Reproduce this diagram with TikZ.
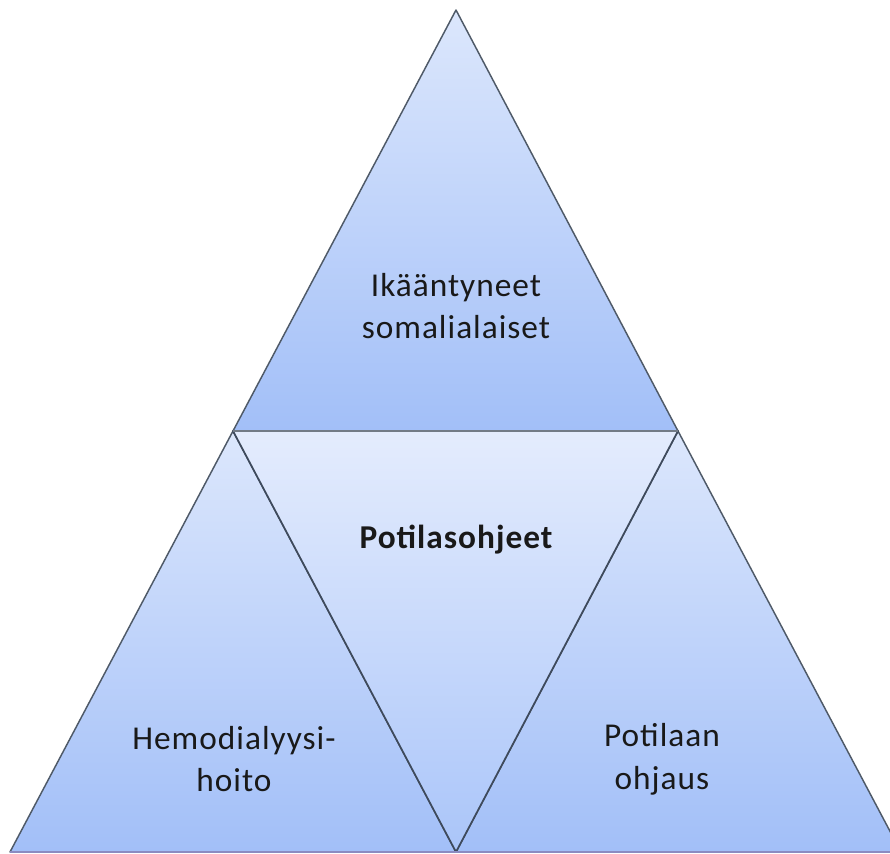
\documentclass[tikz,border=0pt]{standalone}
\usepackage{fontspec}
\setmainfont[LetterSpace=3]{Carlito}
\usepackage{tikz}
\usetikzlibrary{positioning}
\definecolor{triTop}{HTML}{DCE7FC}
\definecolor{triBottom}{HTML}{A2BFF8}
\definecolor{midTop}{HTML}{E4ECFD}
\definecolor{midBottom}{HTML}{AAC5F9}
\definecolor{edgeGray}{HTML}{4F5A68}
\definecolor{innerGray}{HTML}{3E4A5C}
\tikzstyle{tri} = [top color=triTop, bottom color=triBottom, draw=edgeGray, line width=1.1pt, line join=round]
\tikzstyle{midtri} = [top color=midTop, bottom color=midBottom, draw=innerGray, line width=1.3pt, line join=round]
\tikzstyle{label} = [align=center, font=\fontsize{25}{32}\selectfont, text=black!90]

\begin{document}
\begin{tikzpicture}[x=0.75pt, y=-0.75pt]
\clip (0,0) rectangle (890,854);
\coordinate (apex) at (456,10);
\coordinate (midL) at (233,431);
\coordinate (midR) at (678,431);
\coordinate (baseL) at (10,852);
\coordinate (baseM) at (456,852);
\coordinate (baseR) at (901,852);

\path [tri] (apex) -- (midR) -- (midL) -- cycle;
\path [tri] (midL) -- (baseM) -- (baseL) -- cycle;
\path [tri] (midR) -- (baseR) -- (baseM) -- cycle;
\path [midtri] (midL) -- (midR) -- (baseM) -- cycle;
\draw [line width=2.2pt, draw=edgeGray!80] (midL) -- (midR);
\draw [line width=0.8pt, draw=blue!30!gray!70] (baseL) -- (baseR);

\node (top) [label] at (456,306) {Ikääntyneet\\somalialaiset};
\node (centre) [label, font=\fontsize{25}{32}\selectfont\bfseries] at (456,540) {Potilasohjeet};
\node (left) [label] at (234,759) {Hemodialyysi-\\hoito};
\node (right) [label] at (662,759) {Potilaan\\ohjaus};
\end{tikzpicture}
\end{document}
